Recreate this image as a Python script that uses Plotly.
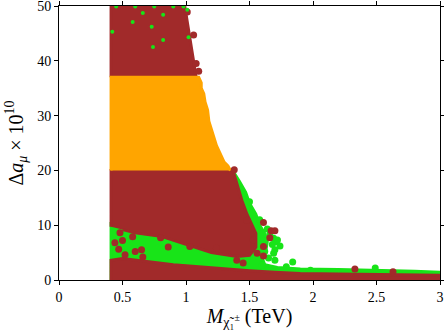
import plotly.graph_objects as go

# region outlines (x in TeV, y in units of 1e-10)
green_x = [0.41, 0.41, 1.00, 1.38, 1.42, 1.47, 1.50, 1.55, 1.58, 1.62, 1.64, 1.63, 1.60,
           1.62, 1.72, 1.90, 2.20, 2.50, 2.80, 3.00, 3.00]
green_y = [0.0, 10.3, 10.3, 19.5, 18.0, 16.0, 14.0, 12.0, 10.0, 8.5, 7.0, 5.5, 4.0,
           2.8, 2.3, 2.0, 1.9, 1.8, 1.6, 1.4, 0.0]

brown_low_x = [0.41, 0.41, 0.50, 0.70, 0.90, 1.10, 1.30, 1.50, 1.70, 1.90, 2.20, 2.50, 2.80, 3.00, 3.00]
brown_low_y = [0.0, 3.6, 3.9, 3.3, 2.8, 2.4, 2.0, 1.7, 1.4, 1.2, 1.1, 1.0, 0.9, 0.85, 0.0]

brown_mid_x = [0.41, 0.41, 1.37, 1.40, 1.44, 1.48, 1.52, 1.55, 1.55, 1.50, 1.40, 1.20, 1.00,
               0.90, 0.80, 0.60, 0.50]
brown_mid_y = [9.7, 20.0, 20.0, 17.5, 14.5, 12.0, 10.0, 8.5, 6.0, 4.5, 4.3, 5.0, 6.5,
               7.3, 8.0, 8.6, 9.2]

brown_top_x = [0.41, 0.41, 0.99, 1.00, 1.02, 1.03, 1.05, 1.07, 1.08]
brown_top_y = [37.0, 50.0, 50.0, 48.5, 46.0, 44.0, 41.0, 38.5, 37.0]

orange_x = [0.41, 0.41, 1.10, 1.12, 1.12, 1.14, 1.15, 1.17, 1.18, 1.20, 1.22, 1.24,
            1.26, 1.28, 1.30, 1.33, 1.35]
orange_y = [20.0, 37.0, 37.0, 36.0, 35.0, 34.0, 32.5, 31.0, 29.0, 27.5, 26.0, 24.5,
            23.5, 22.5, 21.5, 20.8, 20.0]

# isolated points
brown_pts_x = [1.01, 1.06, 1.10, 1.08, 0.44, 0.47, 0.52, 0.50, 0.60, 0.65, 0.66, 0.48,
               0.58, 0.80, 0.86, 1.03, 1.24, 1.40, 1.45, 1.48, 1.61, 1.67, 1.70, 1.66,
               1.61, 1.61, 1.56, 1.53, 2.33, 2.63, 1.38]
brown_pts_y = [48.9, 44.7, 38.1, 39.5, 6.8, 5.6, 4.6, 7.2, 5.2, 5.5, 4.2, 8.6,
               7.9, 7.7, 6.0, 6.1, 5.8, 3.6, 3.1, 10.9, 10.5, 9.0, 9.0, 7.7,
               6.1, 4.4, 4.9, 7.3, 2.0, 1.5, 20.1]

green_specks_x = [0.66, 0.73, 0.82, 0.82, 0.74, 0.58, 0.42, 1.01, 1.02, 0.45, 0.60, 0.75,
                  0.90, 0.98]
green_specks_y = [48.7, 46.2, 48.4, 43.8, 42.5, 47.1, 45.3, 49.3, 44.3, 49.9, 49.9, 49.9,
                  49.9, 49.9]

green_pts_x = [1.45, 1.50, 1.69, 1.71, 1.70, 1.65, 1.79, 1.60, 1.84, 1.70,
               1.69, 2.49, 1.98, 1.58, 1.72, 1.66, 1.74, 1.68, 1.64, 1.62]
green_pts_y = [15.8, 14.3, 7.6, 7.0, 5.5, 4.0, 2.4, 2.7, 3.3, 3.6,
               4.9, 2.2, 1.8, 11.0, 7.3, 8.3, 6.2, 6.5, 9.3, 5.2]

GREEN = "#18e418"
BROWN = "#a12a2a"
ORANGE = "#ffa500"
FONT = "Liberation Serif"


def region(xs, ys, color):
    return go.Scatter(x=xs, y=ys, mode="lines", fill="toself", fillcolor=color,
                      line=dict(color=color, width=3), hoverinfo="skip")


def dots(xs, ys, color, size=7):
    return go.Scatter(x=xs, y=ys, mode="markers", hoverinfo="skip",
                      marker=dict(color=color, size=size, line=dict(width=0)))


fig = go.Figure()
fig.add_trace(region(green_x, green_y, GREEN))
fig.add_trace(dots(green_pts_x, green_pts_y, GREEN))
fig.add_trace(region(brown_low_x, brown_low_y, BROWN))
fig.add_trace(region(brown_mid_x, brown_mid_y, BROWN))
fig.add_trace(region(brown_top_x, brown_top_y, BROWN))
fig.add_trace(region(orange_x, orange_y, ORANGE))
fig.add_trace(dots(brown_pts_x, brown_pts_y, BROWN))
fig.add_trace(dots(green_specks_x, green_specks_y, GREEN, size=4))

axis_style = dict(showline=True, linecolor="black", linewidth=1, mirror="ticks",
                  ticks="outside", ticklen=4, tickcolor="black", showgrid=False,
                  zeroline=False, automargin=False, ticklabeloverflow="allow",
                  tickfont=dict(family=FONT, size=14, color="black"))

fig.update_layout(
    width=444, height=335,
    margin=dict(l=59, r=4, t=6, b=55),
    paper_bgcolor="white", plot_bgcolor="white",
    showlegend=False,
    font=dict(family=FONT, color="black"),
)
fig.update_xaxes(range=[0, 3], tickvals=[0, 0.5, 1, 1.5, 2, 2.5, 3],
                 ticktext=["0", "0.5", "1", "1.5", "2", "2.5", "3"],
                 title=dict(text="<i>M</i><sub>χ̃₁<sup>±</sup></sub> (TeV)",
                            font=dict(family=FONT, size=20), standoff=4),
                 **axis_style)
fig.update_yaxes(range=[0, 50], tickvals=[0, 10, 20, 30, 40, 50],
                 title=dict(text="Δ<i>a</i><sub><i>μ</i></sub> × 10<sup>10</sup>",
                            font=dict(family=FONT, size=20), standoff=8),
                 **axis_style)

# the page body has a default 8px margin; drop it so the figure fills the window
fig.write_html("out.html", config={"displayModeBar": False},
               post_script="document.body.style.margin='0';")
